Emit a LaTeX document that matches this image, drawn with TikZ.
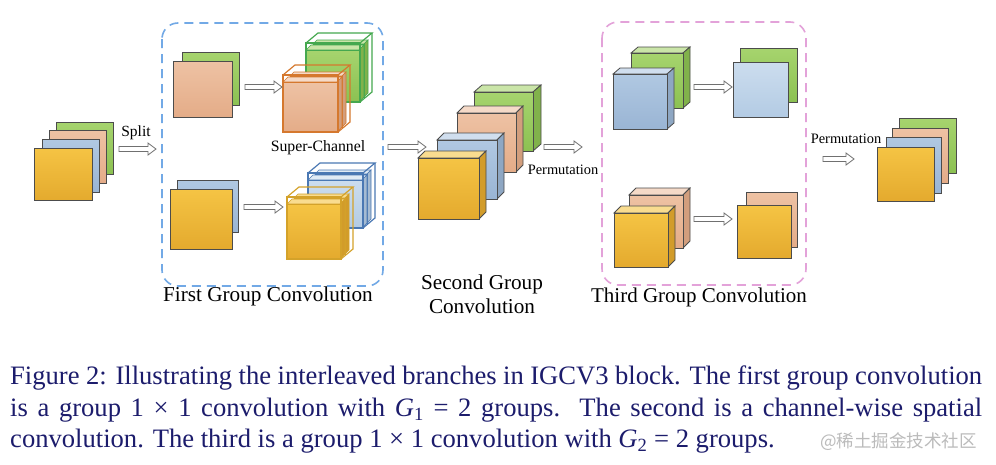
\documentclass[tikz,border=0pt]{standalone}
\usepackage{fontspec}
\setmainfont{Liberation Serif}
\newfontfamily\cjkfont{Noto Sans CJK SC}
\usetikzlibrary{calc}
\definecolor{cyel}{HTML}{F5C444}
\definecolor{cyelD}{HTML}{E4AA2E}
\definecolor{cblu}{HTML}{B0C8E2}
\definecolor{cbluD}{HTML}{9AB5D4}
\definecolor{cpch}{HTML}{EEC2A4}
\definecolor{cpchD}{HTML}{E4AC88}
\definecolor{cgrn}{HTML}{A6D46E}
\definecolor{cgrnD}{HTML}{8CC152}
\definecolor{clbl}{HTML}{CCDDEE}
\definecolor{clblD}{HTML}{B3CBE4}
\definecolor{edge}{HTML}{4C4C4C}
\definecolor{arrgray}{HTML}{707070}
\definecolor{boxblue}{HTML}{72A9E6}
\definecolor{boxpink}{HTML}{E3A2D9}
\definecolor{lorange}{HTML}{D5782E}
\definecolor{lgreen}{HTML}{45A84F}
\definecolor{lblue}{HTML}{4A78B3}
\definecolor{lgold}{HTML}{D4A22A}
\definecolor{capnavy}{HTML}{1C1C6C}
\definecolor{wmgray}{HTML}{BBBBBB}
\tikzset{
  cardline/.style={draw=edge, line width=0.8pt},
  gbox/.style={draw=#1, line width=1.6pt, dash pattern=on 9pt off 6pt, rounded corners=16pt},
  harrow/.style={draw=arrgray, fill=white, line width=0.8pt, line join=miter,
    to path={let \p1=(\tikztostart), \p2=(\tikztotarget) in
      (\x1,\y1+2.5pt) -- (\x2-8pt,\y1+2.5pt) -- (\x2-8pt,\y1+6pt) -- (\x2,\y1)
      -- (\x2-8pt,\y1-6pt) -- (\x2-8pt,\y1-2.5pt) -- (\x1,\y1-2.5pt) -- cycle}},
  lbl/.style={inner sep=0pt, text=black},
}
\newcommand\card[5]{\path[cardline, top color=#5, bottom color=#5D] (#1,#2) rectangle (#3,#4);}
\newcommand\slab[7]{%
  \path[cardline, fill=#7!60!white] (#1,#2) -- ++(#5,#6) -- ++(#3-#1,0) -- (#3,#2) -- cycle;
  \path[cardline, fill=#7D!92!black] (#3,#2) -- ++(#5,#6) -- ++(0,#4-#2) -- (#3,#4) -- cycle;
  \path[cardline, top color=#7, bottom color=#7D] (#1,#2) rectangle (#3,#4);}
\newcommand\sblock[6]{%
  \begin{scope}[shift={(#1,#2)}]
    \path[draw=#6, line width=0.6pt, fill=#5!60!white] (7,1) -- ++(4,-4) -- ++(#3-3,0) -- (#3+4,1) -- cycle;
    \path[draw=#6, line width=0.6pt, fill=#5D!92!black] (#3+4,1) -- ++(4,-4) -- ++(0,#4-6) -- (#3+4,#4-5) -- cycle;
    \path[draw=#6, line width=0.6pt, top color=#5, bottom color=#5D] (7,1) rectangle (#3+4,#4-5);
    \path[draw=#6, line width=0.6pt, fill=#5!60!white] (0,7) -- ++(5,-5) -- ++(#3-1,0) -- (#3-1,7) -- cycle;
    \path[draw=#6, line width=0.6pt, fill=#5D!92!black] (#3-1,7) -- ++(5,-5) -- ++(0,#4-7) -- (#3-1,#4) -- cycle;
    \path[draw=#6, line width=0.6pt, top color=#5, bottom color=#5D] (0,7) rectangle (#3-1,#4);
    \draw[#6, line width=1.2pt] (0,0) rectangle (#3,#4);
    \draw[#6, line width=1.2pt] (0,0) -- ++(12,-10) -- ++(#3,0) -- (#3,0);
    \draw[#6, line width=1.2pt] (#3+12,-10) -- ++(0,#4) -- (#3,#4);
  \end{scope}}
\begin{document}
\begin{tikzpicture}[x=1pt,y=-1pt]
\useasboundingbox (0,0) rectangle (996,464);
\fill[white] (0,0) rectangle (996,464);

% group boxes
\draw[gbox=boxblue] (162,23) rectangle (383,286);
\draw[gbox=boxpink] (602,22) rectangle (806,285);

% input stack
\card{56}{122}{113}{174}{cgrn}
\card{49}{130}{106}{183}{cpch}
\card{42}{139}{99}{192}{cblu}
\card{34}{148}{92}{200}{cyel}

% first group inputs
\card{182}{52}{239}{105}{cgrn}
\card{173}{61}{232}{117}{cpch}
\card{177}{180}{238}{232}{cblu}
\card{170}{189}{232}{249}{cyel}

% super-channels
\sblock{306}{43}{54}{59}{cgrn}{lgreen}
\sblock{283}{75}{55}{57}{cpch}{lorange}
\sblock{308}{173}{55}{55}{clbl}{lblue}
\sblock{287}{197}{54}{62}{cyel}{lgold}

% second group
\slab{474}{92}{533}{151}{8}{-7}{cgrn}
\slab{457}{113}{516}{172}{7}{-7}{cpch}
\slab{437}{140}{497}{199}{7}{-7}{cblu}
\slab{418}{158}{479}{219}{7}{-7}{cyel}

% third group inputs
\slab{631}{53}{683}{108}{7}{-6}{cgrn}
\slab{613}{74}{667}{129}{7}{-6}{cblu}
\slab{629}{195}{683}{248}{7}{-7}{cpch}
\slab{614}{213}{668}{267}{7}{-7}{cyel}

% third group outputs
\card{740}{48}{797}{102}{cgrn}
\card{733}{62}{788}{117}{clbl}
\card{746}{192}{797}{247}{cpch}
\card{737}{205}{791}{258}{cyel}

% final stack
\card{899}{118}{956}{173}{cgrn}
\card{892}{128}{948}{183}{cpch}
\card{886}{137}{941}{193}{cblu}
\card{877}{147}{934}{201}{cyel}

% arrows
\coordinate (a1s) at (119,149); \coordinate (a1e) at (156,149);
\coordinate (a2s) at (245,87);  \coordinate (a2e) at (282,87);
\coordinate (a3s) at (244,207); \coordinate (a3e) at (283,207);
\coordinate (a4s) at (388,147); \coordinate (a4e) at (426,147);
\coordinate (a5s) at (544,147); \coordinate (a5e) at (582,147);
\coordinate (a6s) at (694,87);  \coordinate (a6e) at (732,87);
\coordinate (a7s) at (694,219); \coordinate (a7e) at (732,219);
\coordinate (a8s) at (823,159); \coordinate (a8e) at (854,159);
\foreach \k in {1,...,8} {\draw[harrow] (a\k s) to (a\k e);}

% labels
\node[lbl, font=\fontsize{15.5}{18}\selectfont] (split) at (136,133) {Split};
\node[lbl, font=\fontsize{15.8}{18}\selectfont] (superch) at (318,148) {Super-Channel};
\node[lbl, font=\fontsize{14.4}{17}\selectfont] (perm1) at (563,170) {Permutation};
\node[lbl, font=\fontsize{14.4}{17}\selectfont] (perm2) at (846,139) {Permutation};
\node[lbl, font=\fontsize{21.2}{24}\selectfont] (first) at (268,296) {First Group Convolution};
\node[lbl, font=\fontsize{21.2}{24}\selectfont, align=center] (second) at (482,294) {Second Group\\Convolution};
\node[lbl, font=\fontsize{21}{24}\selectfont] (third) at (699,297) {Third Group Convolution};

% caption
\begin{scope}[every node/.style={inner sep=0pt, anchor=base west, text=capnavy, font=\fontsize{26.6}{31.7}\selectfont}]
\node (cap1) at (10,384.3) {\hbox to 972pt{Figure 2: Illustrating the interleaved branches in IGCV3 block. The first group convolution}};
\node (cap2) at (10,416.7) {\hbox to 972pt{is a group 1 × 1 convolution with \textit{G}\textsubscript{1} = 2 groups.\ \ The second is a channel-wise spatial}};
\node (cap3) at (10,447.7) {convolution. The third is a group 1 × 1 convolution with \textit{G}\textsubscript{2} = 2 groups.};
\end{scope}
\node[inner sep=0pt, anchor=base west, text=wmgray, font=\cjkfont\fontsize{17.5}{20}\selectfont] (wmark) at (820,447.7) {@稀土掘金技术社区};
\end{tikzpicture}
\end{document}
